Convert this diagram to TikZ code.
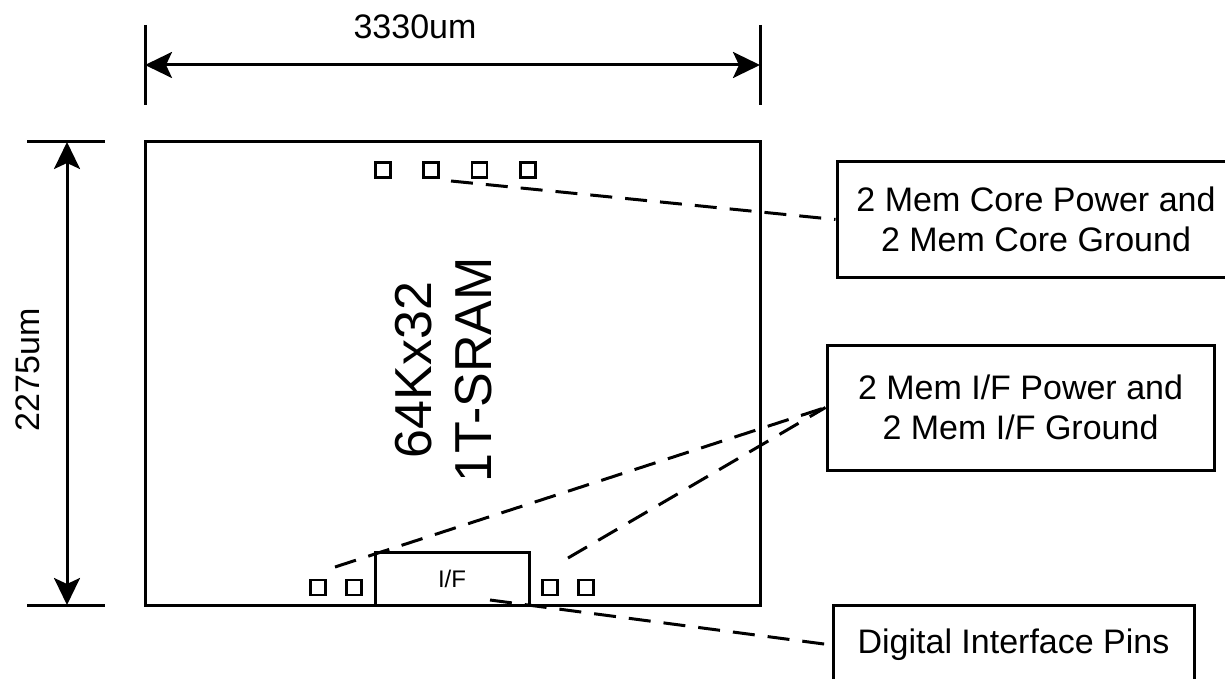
\documentclass[tikz,border=0pt]{standalone}
\usepackage{fontspec}
\setmainfont{Liberation Sans}
\usetikzlibrary{arrows.meta}
\tikzset{
	x=1pt, y=-1pt,
	every path/.style={line width=3pt},
	dimtip/.tip={Stealth[length=27pt,width=26pt,inset=6pt]},
	dimarrow/.style={dimtip-dimtip},
	pad/.style={draw, minimum size=15pt, inner sep=0pt, line width=2.6pt},
	note/.style={draw, align=center, inner sep=0pt, font=\fontsize{34}{40}\selectfont},
	lead/.style={dash pattern=on 22pt off 13pt},
	dimlabel/.style={font=\fontsize{34}{40}\selectfont, inner sep=0pt}
}

\begin{document}
\begin{tikzpicture}
	\useasboundingbox (0,0) rectangle (1225,679);

	% chip and interface block
	\node (sram) [draw, minimum width=615pt, minimum height=463pt] at (452.5,373.5) {};
	\node (sramlabel) [rotate=90, align=center, font=\fontsize{52}{60}\selectfont] at (444,370) {64Kx32\\1T-SRAM};
	\node (ifblock) [draw, minimum width=154pt, minimum height=53pt, font=\fontsize{24}{28}\selectfont] at (452,578.5) {I/F};

	% pads
	\foreach \i/\x in {1/383,2/431,3/479.5,4/528}
		\node (core\i) [pad] at (\x,170) {};
	\foreach \i/\x in {1/318,2/354,3/550,4/586}
		\node (io\i) [pad] at (\x,587.5) {};

	% dimensions
	\coordinate (wtl) at (145,25);  \coordinate (wbl) at (145,105);
	\coordinate (wtr) at (760,25);  \coordinate (wbr) at (760,105);
	\coordinate (wa) at (145,65);   \coordinate (wb) at (760,65);
	\coordinate (hl1) at (27,142);  \coordinate (hr1) at (105,142);
	\coordinate (hl2) at (27,605);  \coordinate (hr2) at (105,605);
	\coordinate (ha) at (67,142);   \coordinate (hb) at (67,605);

	\draw (wtl) -- (wbl);
	\draw (wtr) -- (wbr);
	\draw[dimarrow] (wa) -- (wb);
	\node (width) [dimlabel] at (415,27) {3330um};

	\draw (hl1) -- (hr1);
	\draw (hl2) -- (hr2);
	\draw[dimarrow] (ha) -- (hb);
	\node (height) [dimlabel, rotate=90] at (28,370) {2275um};

	% callouts
	\node (corenote) [note, minimum width=398pt, minimum height=115pt] at (1036,219.5) {2 Mem Core Power and\\2 Mem Core Ground};
	\node (ifnote) [note, minimum width=387pt, minimum height=125pt] at (1020.5,407.5) {2 Mem I/F Power and\\2 Mem I/F Ground};
	\node (pinnote) [note, minimum width=361pt, minimum height=80pt] at (1013.5,645) {Digital Interface Pins};

	\coordinate (corefrom) at (451,181);
	\coordinate (ifleft) at (335,567);
	\coordinate (ifright) at (568,558);
	\coordinate (pinfrom) at (490,600);

	\path[lead] (corefrom) edge (corenote.west);
	\path[lead] (ifleft) edge (ifnote.west);
	\path[lead] (ifright) edge (ifnote.west);
	\path[lead] (pinfrom) edge (pinnote.west);
\end{tikzpicture}
\end{document}
